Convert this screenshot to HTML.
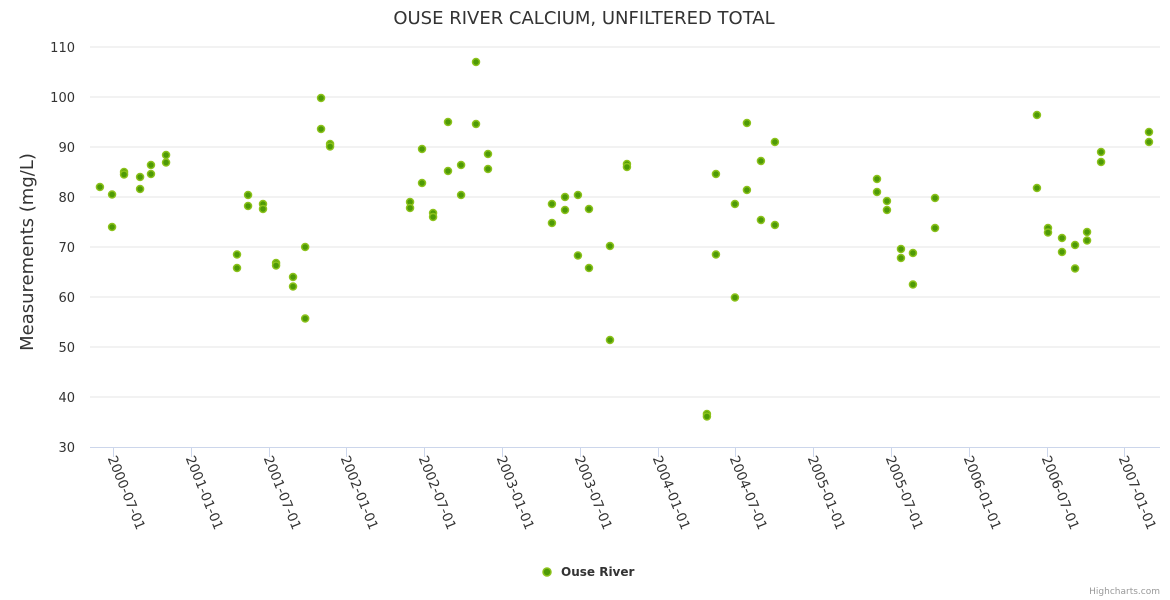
<!DOCTYPE html>
<html><head><meta charset="utf-8"><style>
body{margin:0;background:#fff;}
svg{display:block;font-family:"DejaVu Sans","Liberation Sans",sans-serif;}
</style></head><body>
<svg id="chart" width="1170" height="600">
<text x="584" y="24" text-anchor="middle" font-size="18" fill="#333">OUSE RIVER CALCIUM, UNFILTERED TOTAL</text>
<text transform="translate(33,252) rotate(-90)" text-anchor="middle" font-size="18" fill="#333">Measurements (mg/L)</text>
<g id="grid"></g><g id="xaxis"></g><g id="points"></g>
<g>
<circle cx="547" cy="572" r="4" fill="#4e9a06" stroke="#8cc21c" stroke-width="1.5"/>
<text x="561" y="576" font-size="12" font-weight="bold" fill="#333">Ouse River</text>
</g>
<text x="1160" y="594" text-anchor="end" font-size="9" fill="#999">Highcharts.com</text>
</svg>
<script>
const yTicks=[30,40,50,60,70,80,90,100,110];
const xTickLabels=["2000-07-01","2001-01-01","2001-07-01","2002-01-01","2002-07-01","2003-01-01","2003-07-01","2004-01-01","2004-07-01","2005-01-01","2005-07-01","2006-01-01","2006-07-01","2007-01-01"];
const xTickYears=[2000.5,2001.0,2001.5,2002.0,2002.5,2003.0,2003.5,2004.0,2004.5,2005.0,2005.5,2006.0,2006.5,2007.0];
const sampleYears=[2000.416,2000.494,2000.494,2000.571,2000.571,2000.674,2000.674,2000.744,2000.744,2000.841,2000.841,
2001.297,2001.297,2001.368,2001.368,2001.464,2001.464,2001.548,2001.548,2001.657,2001.657,2001.735,2001.735,2001.837,2001.837,2001.895,2001.895,
2002.409,2002.409,2002.486,2002.486,2002.557,2002.557,2002.653,2002.653,2002.737,2002.737,2002.833,2002.833,2002.910,2002.910,
2003.321,2003.321,2003.405,2003.405,2003.488,2003.488,2003.559,2003.559,2003.694,2003.694,2003.803,2003.803,
2004.317,2004.317,2004.375,2004.375,2004.497,2004.497,2004.574,2004.574,2004.664,2004.664,2004.754,2004.754,
2005.410,2005.410,2005.474,2005.474,2005.564,2005.564,2005.641,2005.641,2005.783,2005.783,
2006.438,2006.438,2006.509,2006.509,2006.599,2006.599,2006.683,2006.683,2006.760,2006.760,2006.850,2006.850,2007.158,2007.158];
const sampleValues=[82,80.5,74,85,84.5,84,81.6,86.4,84.6,88.4,86.9,
68.5,65.8,80.4,78.2,78.6,77.6,66.8,66.3,64,62.1,70,55.7,99.8,93.6,90.6,90.1,
79,77.8,89.6,82.8,76.8,76,95,85.2,86.4,80.4,107,94.6,88.6,85.6,
78.6,74.8,80,77.4,80.4,68.3,77.6,65.8,70.2,51.4,86.6,86,
36.6,36.1,84.6,68.5,78.6,59.9,94.8,81.4,87.2,75.4,91,74.4,
83.6,81,79.2,77.4,69.6,67.8,68.8,62.5,79.8,73.8,
96.4,81.8,73.8,72.9,71.8,69,70.4,65.7,73,71.3,89,87,93,91];
const NS="http://www.w3.org/2000/svg";
const L=90,R=1160,T=47,B=447;
const yScale=v=>B-(v-30)/(110-30)*(B-T);
const xScale=yr=>113+(yr-2000.5)*155.6;
function mk(tag,attrs,parent){const e=document.createElementNS(NS,tag);for(const k in attrs)e.setAttribute(k,attrs[k]);parent.appendChild(e);return e;}
const grid=document.getElementById('grid');
yTicks.forEach(v=>{
  const y=yScale(v);
  if(v>30){const ln=mk('line',{x1:L,x2:R,y1:y,y2:y,stroke:'#e6e6e6','stroke-width':1},grid);
  
  }
  const t=mk('text',{x:75,y:y+5,'text-anchor':'end','font-size':13,fill:'#333'},grid);
  t.textContent=v;
  
  
});
const xa=document.getElementById('xaxis');
const ax=mk('line',{x1:L,x2:R,y1:B+0.5,y2:B+0.5,stroke:'#ccd6eb','stroke-width':1},xa);


xTickLabels.forEach((lab,i)=>{
  const x=Math.round(xScale(xTickYears[i]))+0.5;
  const tk=mk('line',{x1:x,x2:x,y1:B,y2:B+10,stroke:'#ccd6eb'},xa);
  
  
  const t=mk('text',{transform:`translate(${x-6},${B+11}) rotate(68)`,'font-size':13.5,fill:'#333'},xa);
  t.textContent=lab;
  
  
});
const pts=document.getElementById('points');
sampleYears.forEach((yr,i)=>{
  const c=mk('circle',{cx:xScale(yr),cy:yScale(sampleValues[i]),r:3.5,fill:'#4e9a06',stroke:'#8cc21c','stroke-width':1.5},pts);
  
  
});
</script>
</body></html>
